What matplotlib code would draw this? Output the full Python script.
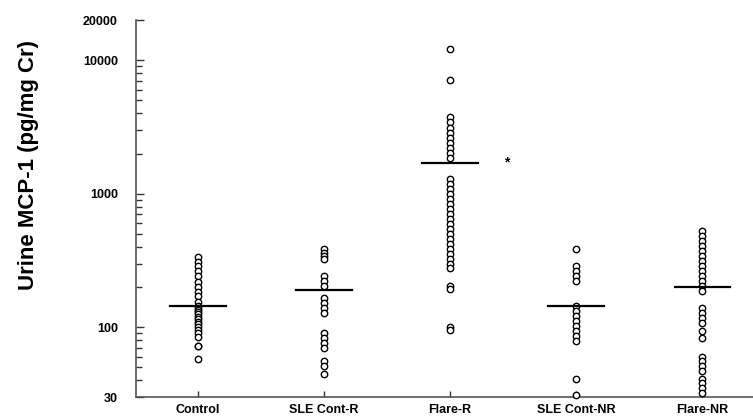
import numpy as np
import matplotlib
matplotlib.use("Agg")
import matplotlib.pyplot as plt
from matplotlib.ticker import FixedLocator, NullFormatter

plt.rcParams['font.family'] = ['Liberation Sans', 'DejaVu Sans']

groups = ['Control', 'SLE Cont-R', 'Flare-R', 'SLE Cont-NR', 'Flare-NR']

control = [335, 310, 290, 265, 240, 220, 200, 185, 170, 155, 145, 140, 135,
           130, 125, 120, 115, 110, 105, 100, 95, 90, 85, 72, 72, 58]
sle_cont_r = [386, 360, 342, 325, 242, 222, 203, 166, 152, 140, 128,
              90, 83, 76, 70, 56, 51, 45]
flare_r = [12100, 7080, 3730, 3420, 3130, 2870, 2630, 2420, 2220, 2030, 1860,
           1300, 1190, 1090, 1000, 917, 841, 771, 707, 649, 595, 546, 500,
           459, 421, 386, 354, 325, 298, 278, 204, 195, 100, 95]
sle_cont_nr = [386, 288, 264, 242, 222, 144, 132, 121, 111, 102, 93, 86, 79,
               41, 31]
flare_nr = [527, 484, 443, 407, 373, 342, 313, 288, 264, 242, 222, 203, 187,
            139, 128, 117, 107, 93, 83, 60, 56, 51, 47, 41, 38, 35, 32]

medians = [144, 190, 1710, 144, 200]

data = [control, sle_cont_r, flare_r, sle_cont_nr, flare_nr]

fig = plt.figure(figsize=(7.53, 4.19), dpi=100)
ax = fig.add_axes([0.1806, 0.0525, 0.819, 0.8995])

for i, vals in enumerate(data):
    ax.plot(np.full(len(vals), i), vals, 'o', mfc='white', mec='black',
            ms=4.6, mew=1.0, clip_on=False, zorder=3)
    ax.plot([i - 0.22, i + 0.22], [medians[i], medians[i]], color='black',
            lw=1.6, zorder=4)

ax.text(2.45, medians[2], '*', fontsize=10, fontweight='bold',
        ha='center', va='center')

ax.set_yscale('log')
ax.set_ylim(30, 20000)
ax.set_xlim(-0.49, 4.4)

ax.yaxis.set_major_locator(FixedLocator([30, 100, 1000, 10000, 20000]))
ax.set_yticklabels(['30', '100', '1000', '10000', '20000'],
                   fontsize=9, fontweight='bold')
minor = [m * d for d in [10, 100, 1000] for m in range(2, 10)
         if 30 < m * d < 10000]
ax.yaxis.set_minor_locator(FixedLocator(minor))
ax.yaxis.set_minor_formatter(NullFormatter())

ax.set_xticks(range(len(groups)))
ax.set_xticklabels(groups, fontsize=9, fontweight='bold')

ax.tick_params(axis='y', which='major', direction='in', length=6, width=1,
               pad=13, colors='#333333', labelcolor='black')
ax.tick_params(axis='y', which='minor', direction='in', length=4, width=1,
               colors='#333333')
ax.tick_params(axis='x', direction='in', length=4, width=1, pad=5,
               colors='#333333', labelcolor='black')

ax.spines['top'].set_visible(False)
ax.spines['right'].set_visible(False)
for s in ['left', 'bottom']:
    ax.spines[s].set_color('#555555')
    ax.spines[s].set_linewidth(1.2)

ax.set_ylabel('Urine MCP-1 (pg/mg Cr)', fontsize=16, fontweight='bold')
ax.yaxis.set_label_coords(-0.157, 0.615)

fig.savefig('out.png', dpi=100)
